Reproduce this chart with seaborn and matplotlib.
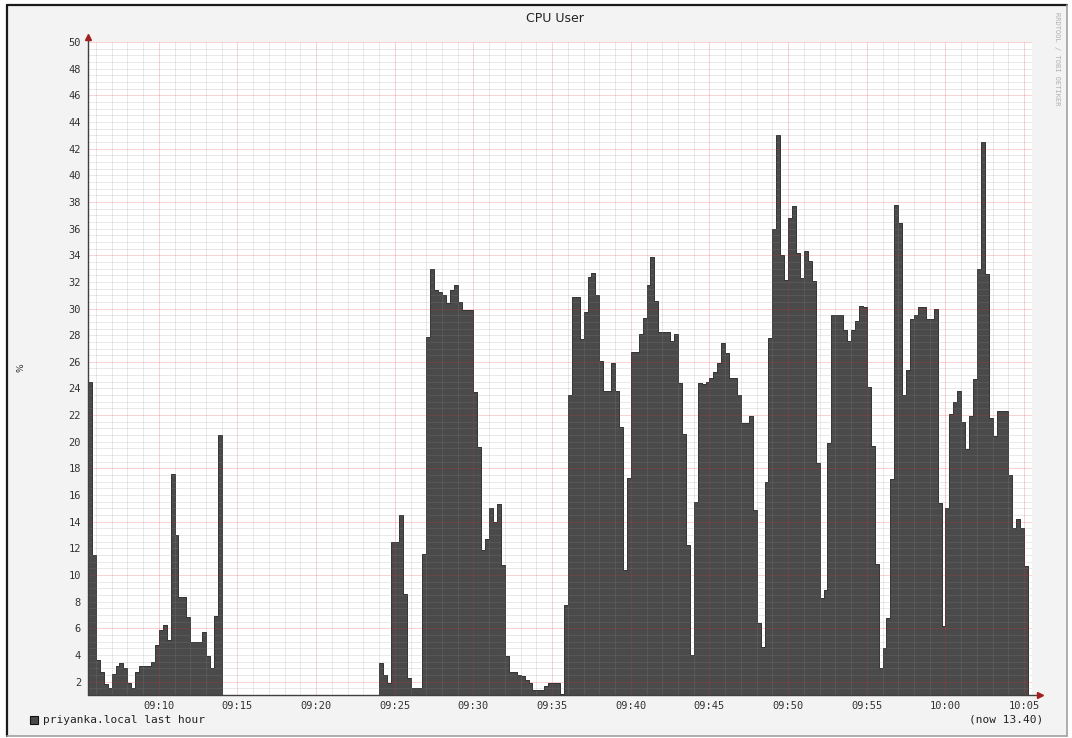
import numpy as np
import pandas as pd
import matplotlib
matplotlib.use("Agg")
import matplotlib.pyplot as plt
from matplotlib.patches import Rectangle
from matplotlib.lines import Line2D
import seaborn as sns

# ---------------- data ----------------
title = "CPU User"
legend_label = "priyanka.local last hour"
now_label = "(now 13.40)"
watermark = "RRDTOOL / TOBI OETIKER"
y_label = "%"
step_seconds = 15

seg1_start = "09:05:30"
seg1_values = [24.5, 11.5, 3.6, 2.75, 1.8, 1.5, 2.6, 3.2, 3.4, 3.0, 1.9, 1.5,
               2.7, 3.2, 3.2, 3.2, 3.5, 4.75, 5.9, 6.25, 5.1, 17.6, 13.0, 8.35,
               8.35, 6.85, 5.0, 5.0, 5.0, 5.75, 3.9, 3.0, 6.9, 20.5]

seg2_start = "09:24:00"
seg2_values = [3.4, 2.5, 1.9, 12.5, 12.5, 14.5, 8.6, 2.25, 1.5, 1.5, 1.5, 11.6,
               27.9, 33.0, 31.4, 31.25, 31.05, 30.4, 31.4, 31.75, 30.5, 29.9, 29.9, 29.9,
               23.75, 19.6, 11.9, 12.7, 15.0, 14.0, 15.3, 10.75, 3.9, 2.75, 2.75, 2.5,
               2.45, 2.1, 1.9, 1.4, 1.4, 1.4, 1.7, 1.9, 1.9, 1.9, 1.05,
               7.75, 23.5, 30.9, 30.9, 27.75, 29.75, 32.4, 32.7, 31.0, 26.1, 23.8, 23.8,
               25.9, 23.8, 21.1, 10.4, 17.25, 26.75, 26.75, 28.1, 29.3, 31.75, 33.9, 30.55,
               28.25, 28.25, 28.25, 27.6, 28.1, 24.4, 20.6, 12.25, 4.0,
               15.5, 24.4, 24.3, 24.5, 24.75, 25.25, 25.9, 27.4, 26.7, 24.8,
               24.8, 23.5, 21.4, 21.4, 21.9, 14.9, 6.4, 4.6, 17.0, 27.8,
               36.0, 43.0, 34.0, 32.15, 36.8, 37.7, 34.2, 32.3, 34.3, 33.6,
               32.05, 18.4, 8.25, 8.9, 19.9, 29.5, 29.5, 29.5, 28.4, 27.6,
               28.4, 29.1, 30.2, 30.1, 24.1, 19.7, 10.8, 3.0, 4.55, 6.8,
               17.2, 37.8, 36.4, 23.5, 25.4, 29.2, 29.55, 30.1, 30.1, 29.2,
               29.2, 30.0, 15.4, 6.2, 15.0, 22.1, 23.0, 23.8, 21.5, 19.45,
               21.9, 24.7, 33.0, 42.5, 32.6, 21.8, 20.4, 22.3, 22.3, 22.3,
               17.5, 13.5, 14.2, 13.5, 10.65]

x_tick_labels = ["09:10", "09:15", "09:20", "09:25", "09:30", "09:35",
                 "09:40", "09:45", "09:50", "09:55", "10:00", "10:05"]
y_tick_values = list(range(2, 51, 2))
x_window = ("09:05:30", "10:05:30")
y_window = (1, 50)

# ---------------- helpers ----------------
def to_min(s):
    parts = [int(p) for p in s.split(":")]
    h, m = parts[0], parts[1]
    sec = parts[2] if len(parts) > 2 else 0
    return (h - 9) * 60 + m + sec / 60.0

step_min = step_seconds / 60.0
rows = []
for start, vals in [(seg1_start, seg1_values), (seg2_start, seg2_values)]:
    t0 = to_min(start)
    for i, v in enumerate(vals):
        rows.append((t0 + (i + 0.5) * step_min, v))
df = pd.DataFrame(rows, columns=["minute", "cpu"])

x0, x1 = to_min(x_window[0]), to_min(x_window[1])
edges = [float(e) for e in np.arange(x0, df["minute"].max() + step_min, step_min)]

W, H = 1072, 738
def fx(px):
    return px / W
def fy(py):
    return 1 - py / H

sns.set_style("white")
plt.rcParams["font.family"] = ["DejaVu Sans"]

fig = plt.figure(figsize=(W / 100, H / 100), dpi=100)
fig.patch.set_facecolor("white")

# outer canvas
bg = Rectangle((fx(7), fy(736)), fx(1067) - fx(7), fy(5) - fy(736),
               transform=fig.transFigure, facecolor="#f3f3f3", edgecolor="none", zorder=-10)
fig.patches.append(bg)
for (xa, ya, xb, yb, c, lw) in [
    (7, 5, 1067, 5, "#1a1a1a", 1.6),
    (7, 5, 7, 736, "#1a1a1a", 1.6),
    (1067, 5, 1067, 736, "#a0a0a0", 1.2),
    (7, 736, 1067, 736, "#a0a0a0", 1.2),
]:
    fig.add_artist(Line2D([fx(xa), fx(xb)], [fy(ya), fy(yb)], transform=fig.transFigure,
                          color=c, lw=lw, zorder=-5))

ax = fig.add_axes([fx(88), fy(695), fx(1032) - fx(88), fy(42) - fy(695)])
ax.set_zorder(5)
ax.set_facecolor("white")

sns.histplot(data=df, x="minute", weights="cpu", bins=edges, element="step",
             fill=True, color="#4a4a4a", alpha=1.0, linewidth=0.7,
             edgecolor="#333333", ax=ax, legend=False, zorder=2)

ax.set_xlim(x0, x1)
ax.set_ylim(*y_window)

# grid (drawn over the area like rrdtool)
for m in np.arange(np.ceil(x0), x1 + 1e-9, 1.0):
    if m % 5 == 0:
        continue
    ax.axvline(m, color=(0.55, 0.55, 0.55), alpha=0.22, lw=0.6, zorder=3)
for yv in np.arange(y_window[0] + 0.5, y_window[1] + 1e-9, 0.5):
    if (yv - 2) % 4 == 0:
        continue
    ax.axhline(yv, color=(0.55, 0.55, 0.55), alpha=0.22, lw=0.6, zorder=3)
for lab in x_tick_labels:
    ax.axvline(to_min(lab), color=(0.9, 0.2, 0.2), alpha=0.22, lw=0.7, zorder=3)
for yv in y_tick_values:
    if (yv - 2) % 4 == 0:
        ax.axhline(yv, color=(0.9, 0.2, 0.2), alpha=0.22, lw=0.7, zorder=3)

for s in ax.spines.values():
    s.set_visible(False)

# axes lines with arrows
ax.plot([x0, x1 + 0.45], [y_window[0], y_window[0]], color="#404040", lw=1.0,
        clip_on=False, zorder=4)
ax.plot([x0, x0], [y_window[0], y_window[1] + 0.35], color="#404040", lw=1.0,
        clip_on=False, zorder=4)
ax.plot([x1 + 0.5], [y_window[0]], marker=">", color="#a02020", ms=4, clip_on=False, zorder=5)
ax.plot([x0], [y_window[1] + 0.4], marker="^", color="#a02020", ms=4, clip_on=False, zorder=5)

mono = "DejaVu Sans Mono"
ax.set_xticks([to_min(l) for l in x_tick_labels])
ax.set_xticklabels(x_tick_labels, fontsize=7.5, family=mono, color="#333333")
ax.set_yticks(y_tick_values)
ax.set_yticklabels([str(v) for v in y_tick_values], fontsize=7.5, family=mono, color="#333333")
ax.tick_params(axis="x", length=0, pad=4)
ax.tick_params(axis="y", length=0, pad=5)
ax.set_xlabel("")
ax.set_ylabel("")

# texts
fig.text(fx(555), fy(19), title, ha="center", va="center", fontsize=9, color="#222222")
fig.text(fx(21), fy(368), y_label, ha="center", va="center", rotation=90,
         fontsize=6.5, color="#333333")
fig.text(fx(1057), fy(12), watermark, ha="center", va="top", rotation=270,
         fontsize=5, family=mono, color="#b0b0b0")

sq = Rectangle((fx(30), fy(724)), fx(8), fy(716) - fy(724), transform=fig.transFigure,
               facecolor="#4a4a4a", edgecolor="#111111", lw=0.8, zorder=5)
fig.patches.append(sq)
fig.text(fx(43), fy(720), legend_label, ha="left", va="center", fontsize=8,
         family=mono, color="#222222")
fig.text(fx(1043), fy(720), now_label, ha="right", va="center", fontsize=8,
         family=mono, color="#222222")

fig.savefig("out.png", dpi=100, facecolor=fig.get_facecolor())
